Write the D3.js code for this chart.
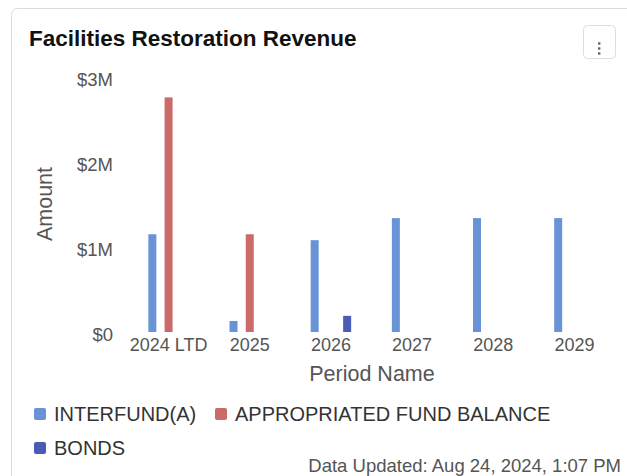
<!DOCTYPE html>
<html>
<head>
<meta charset="utf-8">
<script src="https://cdn.jsdelivr.net/npm/d3@7"></script>
<style>
  html, body { margin: 0; padding: 0; background: #fff; }
  svg { display: block; font-family: "Liberation Sans", Arial, Helvetica, sans-serif; }
</style>
</head>
<body>
<svg id="chart" width="627" height="476"></svg>
<script>
// Revenue by fiscal period, in dollars
const periods = ["2024 LTD", "2025", "2026", "2027", "2028", "2029"];
const seriesNames = ["INTERFUND(A)", "APPROPRIATED FUND BALANCE", "BONDS"];
const interfund = [1150000, 130000, 1080000, 1340000, 1340000, 1340000];
const appropriated = [2760000, 1150000, 0, 0, 0, 0];
const bonds = [0, 0, 190000, 0, 0, 0];
const seriesColors = ["#6a93d7", "#c96b69", "#4a5cb3"];
const yTicks = [0, 1000000, 2000000, 3000000];
const yTickLabels = ["$0", "$1M", "$2M", "$3M"];

const seriesValues = [interfund, appropriated, bonds];

const svg = d3.select("#chart");
const W = 627, H = 476;

// Card frame
svg.append("rect")
  .attr("x", 11.5).attr("y", 8.5)
  .attr("width", W + 20).attr("height", H + 20)
  .attr("rx", 6).attr("fill", "#fff")
  .attr("stroke", "#dcdcdc").attr("stroke-width", 1);

// Title
svg.append("text")
  .attr("x", 29).attr("y", 45.5)
  .attr("font-size", 22.5).attr("font-weight", "bold")
  .attr("fill", "#111")
  .text("Facilities Restoration Revenue");

// Menu button
const menu = svg.append("g");
menu.append("rect")
  .attr("x", 583.5).attr("y", 25.5)
  .attr("width", 32).attr("height", 33)
  .attr("rx", 4).attr("fill", "#fff")
  .attr("stroke", "#dedede");
[43.5, 48.5, 53.5].forEach(cy => {
  menu.append("rect").attr("x", 598).attr("y", cy - 1.2)
    .attr("width", 2.4).attr("height", 2.4).attr("fill", "#666");
});

// Plot area
const plot = { left: 128, right: 615, top: 77, bottom: 332 };

const x0 = d3.scaleBand()
  .domain(periods)
  .range([plot.left, plot.right])
  .paddingInner(0)
  .paddingOuter(0);

const x1 = d3.scaleBand()
  .domain(seriesNames)
  .range([0, x0.bandwidth() * 0.6])
  .padding(0);

const y = d3.scaleLinear()
  .domain([0, 3000000])
  .range([plot.bottom, plot.top]);

const barW = 8;
const groupOffset = (x0.bandwidth() - x1.range()[1]) / 2;

// Bars
seriesNames.forEach((name, si) => {
  svg.append("g")
    .selectAll("rect")
    .data(periods.map((p, i) => ({ p, v: seriesValues[si][i] })).filter(d => d.v > 0))
    .join("rect")
    .attr("x", d => x0(d.p) + groupOffset + x1(name) + (x1.bandwidth() - barW) / 2)
    .attr("y", d => y(d.v))
    .attr("width", barW)
    .attr("height", d => y(0) - y(d.v))
    .attr("fill", seriesColors[si]);
});

// Y axis labels
const yAxis = d3.axisLeft(y)
  .tickValues(yTicks)
  .tickFormat((d, i) => yTickLabels[i])
  .tickSize(0)
  .tickPadding(0);
const yg = svg.append("g")
  .attr("transform", `translate(${113},${3})`)
  .call(yAxis);
yg.select(".domain").remove();
yg.selectAll("text")
  .attr("font-size", 18.5)
  .attr("fill", "#555")
  .attr("font-family", "Liberation Sans, Arial, sans-serif");

// X axis labels
const xAxis = d3.axisBottom(x0).tickSize(0).tickPadding(0);
const xg = svg.append("g")
  .attr("transform", `translate(0,${338})`)
  .call(xAxis);
xg.select(".domain").remove();
xg.selectAll("text")
  .attr("font-size", 18)
  .attr("fill", "#555")
  .attr("font-family", "Liberation Sans, Arial, sans-serif");

// Axis titles
svg.append("text")
  .attr("transform", `translate(52,204) rotate(-90)`)
  .attr("text-anchor", "middle")
  .attr("font-size", 21.5)
  .attr("fill", "#555")
  .text("Amount");

svg.append("text")
  .attr("x", 372).attr("y", 381)
  .attr("text-anchor", "middle")
  .attr("font-size", 21.5)
  .attr("fill", "#555")
  .text("Period Name");

// Legend
const legendItems = [
  { name: seriesNames[0], color: seriesColors[0], x: 34, y: 414 },
  { name: seriesNames[1], color: seriesColors[1], x: 215, y: 414 },
  { name: seriesNames[2], color: seriesColors[2], x: 34, y: 448 }
];
const lg = svg.append("g");
legendItems.forEach(it => {
  lg.append("rect")
    .attr("x", it.x).attr("y", it.y - 6)
    .attr("width", 12).attr("height", 12).attr("rx", 2)
    .attr("fill", it.color);
  lg.append("text")
    .attr("x", it.x + 20).attr("y", it.y + 7)
    .attr("font-size", 20)
    .attr("fill", "#333")
    .text(it.name);
});

// Footer
svg.append("text")
  .attr("x", 621).attr("y", 472)
  .attr("text-anchor", "end")
  .attr("font-size", 18.5)
  .attr("fill", "#555")
  .text("Data Updated: Aug 24, 2024, 1:07 PM");
</script>
</body>
</html>
